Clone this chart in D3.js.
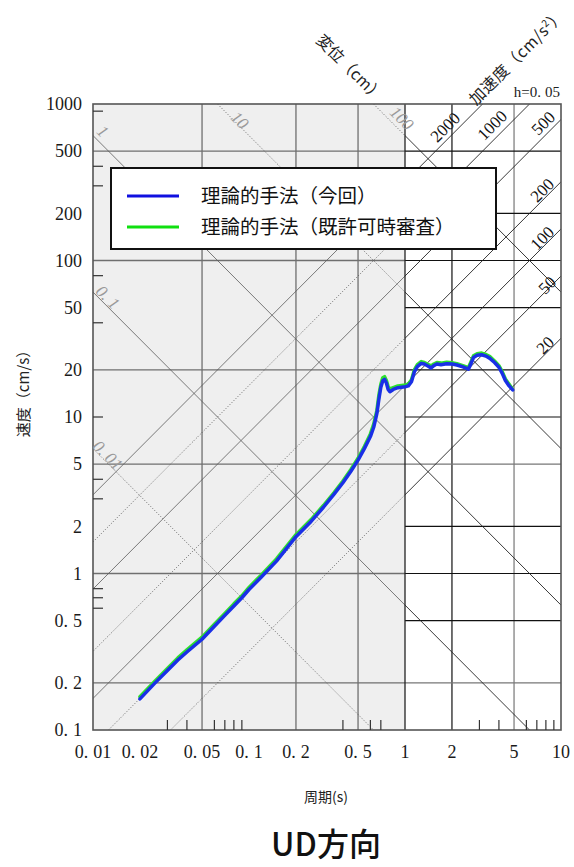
<!DOCTYPE html>
<html><head><meta charset="utf-8">
<script src="https://cdn.jsdelivr.net/npm/d3@7"></script>
<style>body{margin:0;background:#fff} svg{display:block}</style>
</head><body><svg id="c" width="574" height="867"></svg>
<script>
// ---------- data ----------
const periodTicks = [0.01,0.02,0.05,0.1,0.2,0.5,1,2,5,10];
const periodTickLabels = ["0.01","0.02","0.05","0.1","0.2","0.5","1","2","5","10"];
const velocityTicks = [0.1,0.2,0.5,1,2,5,10,20,50,100,200,500,1000];
const velocityTickLabels = ["0.1","0.2","0.5","1","2","5","10","20","50","100","200","500","1000"];
const grayGridT = [0.05,0.2,0.5];
const grayGridV = [500,100,20,5,1,0.2];
const whiteGridT = [2,5];
const whiteGridV = [500,200,100,50,20,10,5,2,1,0.5,0.2];
const minorT = [0.03,0.04,0.06,0.07,0.08,0.09,0.4,0.6,0.7,3,4,6,7,8,9];
const minorV = [900,400,300,80,40,10,4,3,0.8,0.7,0.6];
const dispLines = [0.01,0.1,1,10,100];
const dispLabels = ["0.01","0.1","1","10","100"];
const accLines = [20,50,100,200,500,1000,2000];
const accLabels = ["20","50","100","200","500","1000","2000"];
const seriesNames = ["理論的手法（今回）","理論的手法（既許可時審査）"];

const periodNew = [0.02,0.025,0.03,0.035,0.04,0.05,0.06,0.07,0.08,0.09,0.1,0.12,0.15,0.2,0.25,0.3,0.35,0.4,0.45,0.5,0.55,0.6,0.63,0.66,0.68,0.7,0.72,0.74,0.76,0.78,0.8,0.84,0.9,0.95,1.0,1.05,1.1,1.15,1.2,1.27,1.33,1.4,1.47,1.53,1.6,1.7,1.85,2.0,2.15,2.35,2.55,2.65,2.75,2.9,3.1,3.3,3.5,3.75,4.0,4.2,4.4,4.65,4.9];
const velocityNew = [0.158,0.2,0.24,0.28,0.315,0.38,0.46,0.54,0.62,0.7,0.79,0.95,1.2,1.72,2.15,2.65,3.2,3.8,4.5,5.3,6.3,7.5,8.6,10.5,13,15.5,17,17.4,16.5,15,14.5,15,15.4,15.5,15.6,15.8,16.8,19.5,21,22,21.8,21.2,20.6,21.3,21.8,21.6,21.9,21.8,21.5,20.9,20.2,22,24,24.8,25,24.5,23.7,22.3,20.8,19,17.1,15.8,14.9];
const periodOld = [0.02,0.025,0.03,0.035,0.04,0.05,0.06,0.07,0.08,0.09,0.1,0.12,0.15,0.2,0.25,0.3,0.35,0.4,0.45,0.5,0.55,0.6,0.63,0.66,0.68,0.7,0.72,0.74,0.76,0.78,0.8,0.84,0.9,0.95,1.0,1.05,1.1,1.15,1.2,1.27,1.33,1.4,1.47,1.53,1.6,1.7,1.85,2.0,2.15,2.35,2.55,2.65,2.75,2.9,3.1,3.3,3.5,3.75,4.0,4.2,4.4,4.65,4.85];
const velocityOld = [0.163,0.206,0.247,0.289,0.325,0.392,0.474,0.556,0.64,0.72,0.815,0.98,1.24,1.77,2.21,2.72,3.28,3.9,4.62,5.45,6.5,7.8,9.0,11,13.8,16.2,17.8,18.1,17.1,15.6,15.1,15.4,15.8,15.9,16,16.2,17.3,20.1,21.6,22.6,22.3,21.7,21.2,21.8,22.3,22.1,22.4,22.2,21.9,21.3,20.7,22.6,24.6,25.4,25.6,25.1,24.3,22.8,21.3,19.5,17.5,16.2,15.2];

// ---------- layout ----------
const svg = d3.select("#c");
const L=93, R=561, T=104, B=730;
const x = d3.scaleLog().domain([0.01,10]).range([L,R]);
const y = d3.scaleLog().domain([0.1,1000]).range([B,T]);
const serif = "'Liberation Serif','DejaVu Serif',serif";
const cjk = "'Noto Sans CJK JP','Noto Sans CJK SC',sans-serif";

// numeric label with a wide (Mincho-like) period, text itself unchanged
function wideText(sel, str, gap){
  const parts = str.split(".");
  if(parts.length===1){ sel.text(str); return; }
  sel.text(null);
  sel.append("tspan").text(parts[0]+".");
  sel.append("tspan").attr("dx",gap).text(parts[1]);
}

const defs = svg.append("defs");
defs.append("clipPath").attr("id","gclip").append("rect").attr("x",L).attr("y",T).attr("width",x(1)-L).attr("height",B-T);
defs.append("clipPath").attr("id","wclip").append("rect").attr("x",x(1)).attr("y",T).attr("width",R-x(1)).attr("height",B-T);

svg.append("rect").attr("x",L).attr("y",T).attr("width",x(1)-L).attr("height",B-T).attr("fill","#efefef");

const gG = svg.append("g").attr("clip-path","url(#gclip)");
const gW = svg.append("g").attr("clip-path","url(#wclip)");

gG.selectAll("line.gv").data(grayGridT).join("line")
  .attr("x1",d=>x(d)).attr("x2",d=>x(d)).attr("y1",T).attr("y2",B)
  .attr("stroke","#6f6f6f").attr("stroke-width",1.3);
gG.selectAll("line.gh").data(grayGridV).join("line")
  .attr("x1",L).attr("x2",x(1)).attr("y1",d=>y(d)).attr("y2",d=>y(d))
  .attr("stroke","#6f6f6f").attr("stroke-width",1.3);
gW.selectAll("line.wv").data(whiteGridT).join("line")
  .attr("x1",d=>x(d)).attr("x2",d=>x(d)).attr("y1",T).attr("y2",B)
  .attr("stroke",d=>d===5?"#777":"#111").attr("stroke-width",1.2);
gW.selectAll("line.wh").data(whiteGridV).join("line")
  .attr("x1",x(1)).attr("x2",R).attr("y1",d=>y(d)).attr("y2",d=>y(d))
  .attr("stroke",d=>(d===5||d===0.2)?"#777":"#111").attr("stroke-width",1.2);

// diagonal lines (constant displacement / constant acceleration)
const Tlo=0.001, Thi=100;
function dispPts(D){ return [[Tlo,2*Math.PI*D/Tlo],[Thi,2*Math.PI*D/Thi]]; }
function accPts(A){ return [[Tlo,A*Tlo/(2*Math.PI)],[Thi,A*Thi/(2*Math.PI)]]; }
const ln = d3.line().x(d=>x(d[0])).y(d=>y(d[1]));
const solidGrayD = [1,0.1];
const solidGrayA = [2000,500,100];
gG.selectAll("path.dd").data(dispLines).join("path")
  .attr("d",d=>ln(dispPts(d))).attr("fill","none")
  .attr("stroke",d=>solidGrayD.includes(d)?"#5a5a5a":"#444")
  .attr("stroke-width",0.8)
  .attr("stroke-dasharray",d=>solidGrayD.includes(d)?null:"1,1.8");
gG.selectAll("path.da").data(accLines).join("path")
  .attr("d",d=>ln(accPts(d))).attr("fill","none")
  .attr("stroke",d=>solidGrayA.includes(d)?"#5a5a5a":"#444")
  .attr("stroke-width",0.8)
  .attr("stroke-dasharray",d=>solidGrayA.includes(d)?null:"1,1.8");
gW.selectAll("path.wd").data(dispLines).join("path")
  .attr("d",d=>ln(dispPts(d))).attr("fill","none").attr("stroke","#222").attr("stroke-width",0.9);
gW.selectAll("path.wa").data(accLines).join("path")
  .attr("d",d=>ln(accPts(d))).attr("fill","none").attr("stroke","#222").attr("stroke-width",0.9);

// frame
svg.append("line").attr("x1",x(1)).attr("x2",x(1)).attr("y1",T).attr("y2",B).attr("stroke","#222").attr("stroke-width",1.3);
svg.append("rect").attr("x",L).attr("y",T).attr("width",R-L).attr("height",B-T)
  .attr("fill","none").attr("stroke","#555").attr("stroke-width",1.6);

// minor ticks
svg.selectAll("line.mt").data(minorT).join("line")
  .attr("x1",d=>x(d)).attr("x2",d=>x(d)).attr("y1",B).attr("y2",B-10)
  .attr("stroke","#333").attr("stroke-width",1.2);
svg.selectAll("line.mv").data(minorV).join("line")
  .attr("x1",L).attr("x2",L+10).attr("y1",d=>y(d)).attr("y2",d=>y(d))
  .attr("stroke","#333").attr("stroke-width",1.2);

// axis tick labels
svg.selectAll("text.yl").data(velocityTicks).join("text")
  .attr("x",82).attr("y",d=>y(d)).attr("dy","0.35em").attr("text-anchor","end")
  .attr("font-family",serif).attr("font-size",18).attr("fill","#1a1a1a")
  .each(function(d,i){ wideText(d3.select(this), velocityTickLabels[i], 5); });
svg.selectAll("text.xl").data(periodTicks).join("text")
  .attr("x",d=>x(d)).attr("y",752).attr("dy","0.35em").attr("text-anchor","middle")
  .attr("font-family",serif).attr("font-size",18).attr("fill","#1a1a1a")
  .each(function(d,i){ wideText(d3.select(this), periodTickLabels[i], 5); });

// diagonal labels
const dispLabelPos = [[108,455],[108,297],[103,131],[240,120],[402,118]];
svg.selectAll("text.dl").data(dispLines).join("text")
  .attr("transform",(d,i)=>`translate(${dispLabelPos[i][0]},${dispLabelPos[i][1]}) rotate(45)`)
  .attr("text-anchor","middle").attr("dy","0.35em")
  .attr("font-family",serif).attr("font-style","italic").attr("font-size",17)
  .attr("fill","#9a9a9a")
  .each(function(d,i){ wideText(d3.select(this), dispLabels[i], 4); });
const accLabelPos = [[545,345],[547,285],[542,238],[542,190],[543,123],[492,125],[445,127]];
svg.selectAll("text.al").data(accLines).join("text")
  .attr("transform",(d,i)=>`translate(${accLabelPos[i][0]},${accLabelPos[i][1]}) rotate(-45)`)
  .attr("text-anchor","middle").attr("dy","0.35em")
  .attr("font-family",serif).attr("font-size",17).attr("fill","#111")
  .text((d,i)=>accLabels[i]);

// top titles
svg.append("text").attr("transform","translate(350,68) rotate(45)").attr("text-anchor","middle").attr("dy","0.35em")
  .attr("font-family",cjk).attr("font-size",16).attr("fill","#222").text("変位（cm）");
svg.append("text").attr("transform","translate(517,57) rotate(-45)").attr("text-anchor","middle").attr("dy","0.35em")
  .attr("font-family",cjk).attr("font-size",16).attr("letter-spacing",0.5).attr("fill","#222")
  .html('加速度（cm/s<tspan dy="-6" font-size="10">2</tspan><tspan dy="6">）</tspan>');
const hT = svg.append("text").attr("x",560).attr("y",97).attr("text-anchor","end")
  .attr("font-family",serif).attr("font-size",15).attr("fill","#222");
wideText(hT, "h=0.05", 4);

// series
const line = d3.line().x(d=>x(d[0])).y(d=>y(d[1]));
svg.append("path").datum(periodOld.map((t,i)=>[t,velocityOld[i]]))
  .attr("d",line).attr("fill","none").attr("stroke","#2ee02e").attr("stroke-width",3.5)
  .attr("stroke-linejoin","round").attr("stroke-linecap","round");
svg.append("path").datum(periodNew.map((t,i)=>[t,velocityNew[i]]))
  .attr("d",line).attr("fill","none").attr("stroke","#1a30e6").attr("stroke-width",3.5)
  .attr("stroke-linejoin","round").attr("stroke-linecap","round");

// legend
const lg = svg.append("g");
lg.append("rect").attr("x",111).attr("y",168).attr("width",385).attr("height",81)
  .attr("fill","#fff").attr("stroke","#111").attr("stroke-width",2);
const legColors = ["#1010e0","#10e010"];
seriesNames.forEach((n,i)=>{
  const yy = 196 + i*31;
  lg.append("line").attr("x1",127).attr("x2",179).attr("y1",yy).attr("y2",yy)
    .attr("stroke",legColors[i]).attr("stroke-width",3);
  lg.append("text").attr("x",201).attr("y",yy).attr("dy","0.35em")
    .attr("font-family",cjk).attr("font-size",19.5).attr("fill","#111").text(n);
});

// axis titles
svg.append("text").attr("x",326).attr("y",797).attr("dy","0.35em").attr("text-anchor","middle")
  .attr("font-family",cjk).attr("font-size",14).attr("fill","#222").text("周期(s)");
svg.append("text").attr("transform","translate(24,390) rotate(-90)").attr("dy","0.35em").attr("text-anchor","middle")
  .attr("font-family",cjk).attr("font-size",15).attr("fill","#222").text("速度（cm/s）");
svg.append("text").attr("x",326).attr("y",845).attr("dy","0.35em").attr("text-anchor","middle")
  .attr("font-family",cjk).attr("font-size",32).attr("font-weight",500).attr("fill","#111").text("UD方向");
</script></body></html>
